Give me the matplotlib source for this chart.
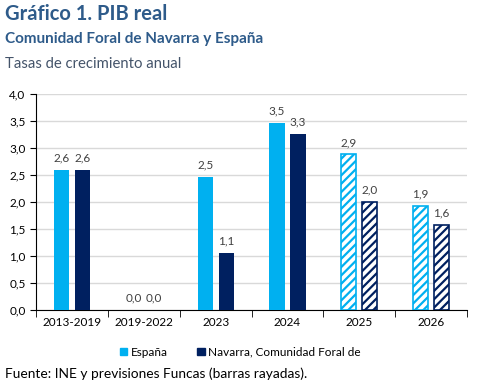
import matplotlib.pyplot as plt
import numpy as np
from matplotlib.patches import Patch

plt.rcParams['font.family'] = ['Lato', 'DejaVu Sans']
plt.rcParams['hatch.linewidth'] = 1.6

categories = ["2013-2019", "2019-2022", "2023", "2024", "2025", "2026"]
espana = [2.6, 0.0, 2.46, 3.46, 2.88, 1.93]
navarra = [2.6, 0.0, 1.06, 3.26, 2.0, 1.58]
forecast = [False, False, False, False, True, True]

col_es = "#00B0F0"
col_na = "#002060"

fig = plt.figure(figsize=(4.81, 3.85), dpi=100)
ax = fig.add_axes([0.075, 0.195, 0.896, 0.561])

x = np.arange(len(categories))
w = 0.21
off = 0.146

for i in range(len(categories)):
    for val, dx, col in [(espana[i], -off, col_es), (navarra[i], off, col_na)]:
        if forecast[i]:
            ax.bar(x[i] + dx, val, w, facecolor="white", edgecolor=col,
                   hatch="////", linewidth=1.2, zorder=3)
        else:
            ax.bar(x[i] + dx, val, w, color=col, zorder=3)
        ax.text(x[i] + dx, val + 0.12, f"{val:.1f}".replace(".", ","),
                ha="center", va="bottom", fontsize=8.5, color="#404040")

ax.set_xlim(-0.5, len(categories) - 0.5)
ax.set_ylim(0, 4)
ax.set_yticks(np.arange(0, 4.01, 0.5))
ax.set_yticklabels([f"{v:.1f}".replace(".", ",") for v in np.arange(0, 4.01, 0.5)])
ax.set_xticks(x)
ax.set_xticklabels(categories)
ax.set_xticks(np.arange(-0.5, len(categories)), minor=True)
ax.tick_params(axis="x", which="major", length=0, labelsize=8.5, colors="#000000", pad=5)
ax.tick_params(axis="x", which="minor", length=5, direction="out", color="#000000")
ax.tick_params(axis="y", length=4, labelsize=8.5, color="#000000")
ax.yaxis.grid(True, color="#D9D9D9", linewidth=1)
ax.set_axisbelow(True)
for s in ["top", "right"]:
    ax.spines[s].set_visible(False)
ax.spines["left"].set_color("#000000")
ax.spines["bottom"].set_color("#000000")

handles = [Patch(color=col_es, label="España"),
           Patch(color=col_na, label="Navarra, Comunidad Foral de")]
fig.legend(handles=handles, loc="center", bbox_to_anchor=(0.5, 0.085), ncol=2,
           frameon=False, fontsize=8.5, handlelength=0.6, handleheight=0.6,
           handletextpad=0.3, columnspacing=2.5)

fig.text(0.01, 0.963, "Gráfico 1. PIB real", fontsize=14.5, fontweight="bold",
         color="#2E5B8A", va="center")
fig.text(0.01, 0.9, "Comunidad Foral de Navarra y España", fontsize=11,
         fontweight="bold", color="#2E5B8A", va="center")
fig.text(0.01, 0.833, "Tasas de crecimiento anual", fontsize=10.7,
         color="#44546A", va="center")
fig.text(0.01, 0.028, "Fuente: INE y previsiones Funcas (barras rayadas).",
         fontsize=9.9, color="#000000", va="center")

fig.savefig("out.png", dpi=100)
